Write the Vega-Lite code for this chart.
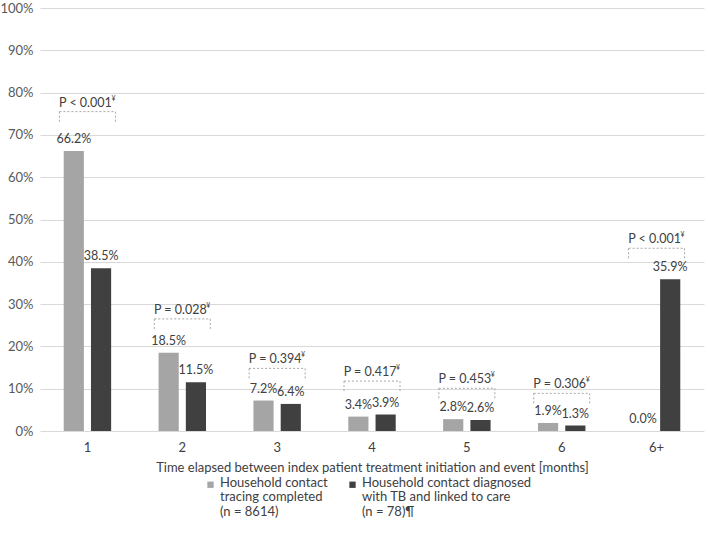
{
  "$schema": "https://vega.github.io/schema/vega-lite/v6.json",
  "width": 664,
  "height": 423,
  "autosize": {"type": "none"},
  "padding": {"left": 40, "top": 8, "right": 4, "bottom": 102},
  "background": "white",
  "config": {
    "font": "Lato",
    "view": {"stroke": null},
    "axis": {"labelFont": "Lato", "titleFont": "Lato", "labelColor": "#595959", "titleColor": "#404040", "labelFontSize": 13, "titleFontSize": 13, "titleFontWeight": "normal", "ticks": false, "tickSize": 0}
  },
  "datasets": {
    "bars": [
      {"month": "1", "series": "Household contact tracing completed (n = 8614)", "value": 0.662},
      {"month": "1", "series": "Household contact diagnosed with TB and linked to care (n = 78)¶", "value": 0.385},
      {"month": "2", "series": "Household contact tracing completed (n = 8614)", "value": 0.185},
      {"month": "2", "series": "Household contact diagnosed with TB and linked to care (n = 78)¶", "value": 0.115},
      {"month": "3", "series": "Household contact tracing completed (n = 8614)", "value": 0.072},
      {"month": "3", "series": "Household contact diagnosed with TB and linked to care (n = 78)¶", "value": 0.064},
      {"month": "4", "series": "Household contact tracing completed (n = 8614)", "value": 0.034},
      {"month": "4", "series": "Household contact diagnosed with TB and linked to care (n = 78)¶", "value": 0.039},
      {"month": "5", "series": "Household contact tracing completed (n = 8614)", "value": 0.028},
      {"month": "5", "series": "Household contact diagnosed with TB and linked to care (n = 78)¶", "value": 0.026},
      {"month": "6", "series": "Household contact tracing completed (n = 8614)", "value": 0.019},
      {"month": "6", "series": "Household contact diagnosed with TB and linked to care (n = 78)¶", "value": 0.013},
      {"month": "6+", "series": "Household contact tracing completed (n = 8614)", "value": 0.0},
      {"month": "6+", "series": "Household contact diagnosed with TB and linked to care (n = 78)¶", "value": 0.359}
    ],
    "pvals": [
      {"month": "1", "p": "P < 0.001", "level": 0.755},
      {"month": "2", "p": "P = 0.028", "level": 0.265},
      {"month": "3", "p": "P = 0.394", "level": 0.148},
      {"month": "4", "p": "P = 0.417", "level": 0.118},
      {"month": "5", "p": "P = 0.453", "level": 0.101},
      {"month": "6", "p": "P = 0.306", "level": 0.089},
      {"month": "6+", "p": "P < 0.001", "level": 0.432}
    ]
  },
  "encoding": {
    "x": {
      "field": "month", "type": "ordinal",
      "sort": ["1", "2", "3", "4", "5", "6", "6+"],
      "scale": {"paddingInner": 0.5, "paddingOuter": 0.25},
      "axis": {"title": "Time elapsed between index patient treatment initiation and event [months]", "labelAngle": 0, "labelPadding": 10, "titlePadding": 7, "domain": false, "labelColor": "#404040"}
    }
  },
  "layer": [
    {
      "data": {"name": "bars"},
      "mark": {"type": "bar"},
      "encoding": {
        "xOffset": {"field": "series", "type": "nominal", "sort": ["Household contact tracing completed (n = 8614)", "Household contact diagnosed with TB and linked to care (n = 78)¶"], "scale": {"paddingInner": 0.26, "paddingOuter": 0}},
        "y": {"field": "value", "type": "quantitative", "scale": {"domain": [0, 1]},
          "axis": {"title": null, "format": ".0%", "values": [0, 0.1, 0.2, 0.3, 0.4, 0.5, 0.6, 0.7, 0.8, 0.9, 1], "gridColor": "#d9d9d9", "domain": false, "labelPadding": 7}},
        "color": {
          "field": "series", "type": "nominal",
          "scale": {"domain": ["Household contact tracing completed (n = 8614)", "Household contact diagnosed with TB and linked to care (n = 78)¶"], "range": ["#a5a5a5", "#404040"]},
          "legend": {
            "title": null, "orient": "none", "legendX": 164, "legendY": 470, "direction": "horizontal",
            "symbolType": "square", "symbolSize": 40, "symbolStrokeWidth": 0,
            "labelFont": "Lato", "labelFontSize": 13, "labelColor": "#404040", "labelLimit": 300,
            "labelBaseline": "top", "labelOffset": 3, "columnPadding": 18,
            "labelExpr": "test(/tracing/, datum.label) ? ['Household contact', 'tracing completed', '(n = 8614)'] : ['Household contact diagnosed', 'with TB and linked to care', '(n = 78)¶']",
            "encode": {"labels": {"update": {"dy": {"value": -8}, "lineHeight": {"value": 14.5}}}}
          }
        }
      }
    },
    {
      "data": {"name": "bars"},
      "mark": {"type": "text", "baseline": "bottom", "dy": -5, "fontSize": 12.5, "color": "#404040"},
      "encoding": {
        "xOffset": {"field": "series", "type": "nominal", "sort": ["Household contact tracing completed (n = 8614)", "Household contact diagnosed with TB and linked to care (n = 78)¶"]},
        "y": {"field": "value", "type": "quantitative"},
        "text": {"field": "value", "type": "quantitative", "format": ".1%"}
      }
    },
    {
      "data": {"name": "pvals"},
      "mark": {"type": "rule", "strokeDash": [2, 2], "color": "#a6a6a6", "strokeWidth": 1, "xOffset": -28, "x2Offset": 28},
      "encoding": {
        "x": {"field": "month", "type": "ordinal", "sort": ["1", "2", "3", "4", "5", "6", "6+"], "bandPosition": 0.5},
        "x2": {"field": "month", "bandPosition": 0.5},
        "y": {"field": "level", "type": "quantitative"}
      }
    },
    {
      "data": {"name": "pvals"},
      "mark": {"type": "rule", "strokeDash": [2, 2], "color": "#a6a6a6", "strokeWidth": 1, "xOffset": -28, "y2Offset": 10},
      "encoding": {
        "y": {"field": "level", "type": "quantitative"},
        "y2": {"field": "level"}
      }
    },
    {
      "data": {"name": "pvals"},
      "mark": {"type": "rule", "strokeDash": [2, 2], "color": "#a6a6a6", "strokeWidth": 1, "xOffset": 28, "y2Offset": 10},
      "encoding": {
        "y": {"field": "level", "type": "quantitative"},
        "y2": {"field": "level"}
      }
    },
    {
      "data": {"name": "pvals"},
      "mark": {"type": "text", "baseline": "middle", "dy": -9, "dx": -2, "fontSize": 12.5, "color": "#404040"},
      "encoding": {
        "y": {"field": "level", "type": "quantitative"},
        "text": {"field": "p"}
      }
    },
    {
      "data": {"name": "pvals"},
      "mark": {"type": "text", "baseline": "middle", "dy": -13, "dx": 26, "fontSize": 7, "color": "#404040", "text": "¥"},
      "encoding": {
        "y": {"field": "level", "type": "quantitative"}
      }
    }
  ]
}
